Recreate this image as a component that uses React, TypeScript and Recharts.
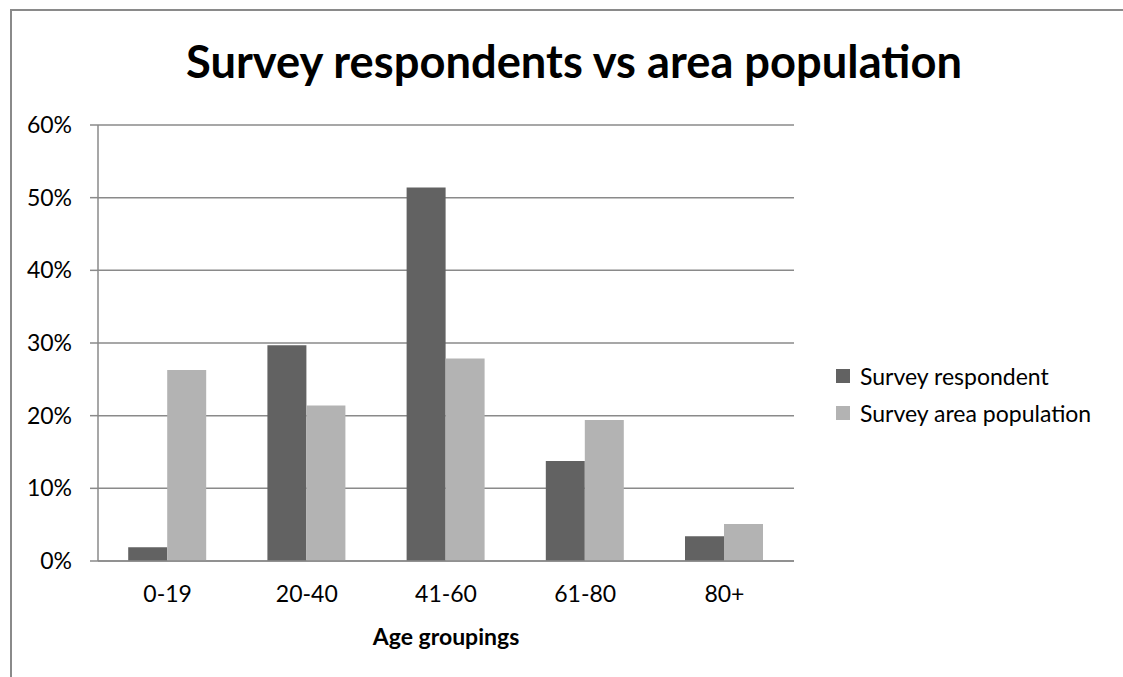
import React from 'react';
import { BarChart, Bar, XAxis, YAxis, CartesianGrid, Legend, Label } from 'recharts';

const categories = ['0-19', '20-40', '41-60', '61-80', '80+'];
const respondentValues = [0.019, 0.297, 0.514, 0.1375, 0.034];
const populationValues = [0.263, 0.214, 0.2785, 0.194, 0.051];
const yTicks = [0, 0.1, 0.2, 0.3, 0.4, 0.5, 0.6];
const seriesNames = ['Survey respondent', 'Survey area population'];
const seriesColors = ['#626262', '#b3b3b3'];
const titleText = 'Survey respondents vs area population';
const xAxisTitle = 'Age groupings';

const data = categories.map((c, i) => ({
  category: c,
  respondent: respondentValues[i],
  population: populationValues[i],
}));

const FONT = 'Lato, "Open Sans", sans-serif';
const GRID = '#8a8a8a';

const XTick = (props: any) => {
  const { x, y, payload } = props;
  return (
    <text x={x} y={y + 41} textAnchor="middle" fontSize={23} fontFamily={FONT} fill="#000">
      {payload.value}
    </text>
  );
};

const XTitle = (props: any) => {
  const vb = props.viewBox || { x: 0, y: 0, width: 0 };
  return (
    <text x={vb.x + vb.width / 2} y={vb.y + 84} textAnchor="middle" fontSize={23} fontWeight={700} fontFamily={FONT} fill="#000">
      {xAxisTitle}
    </text>
  );
};

const renderLegend = () => (
  <div style={{ fontFamily: FONT, fontSize: 23, color: '#000' }}>
    {seriesNames.map((name, i) => (
      <div key={name} style={{ display: 'flex', alignItems: 'center', height: 37 }}>
        <span style={{ width: 14, height: 14, background: seriesColors[i], marginRight: 10, display: 'inline-block' }} />
        <span style={{ whiteSpace: 'nowrap' }}>{name}</span>
      </div>
    ))}
  </div>
);

export default function App() {
  return (
    <div style={{ position: 'fixed', left: 8, top: 8, width: 1115, height: 669, overflow: 'hidden', background: '#fff' }}>
      <div
        style={{
          position: 'absolute',
          left: 2,
          top: 1,
          width: 1200,
          height: 900,
          border: `2px solid ${GRID}`,
          boxSizing: 'border-box',
        }}
      />
      <div style={{ position: 'absolute', left: 0, top: 0 }}>
        <BarChart
          width={1115}
          height={669}
          data={data}
          margin={{ top: 117, right: 329, bottom: 56, left: 0 }}
          barCategoryGap="21.7%"
          barGap={0}
        >
          <CartesianGrid vertical={false} stroke={GRID} strokeWidth={1.5} />
          <XAxis
            dataKey="category"
            height={60}
            tickLine={false}
            tickSize={0}
            tickMargin={0}
            axisLine={{ stroke: GRID, strokeWidth: 1.5 }}
            tick={<XTick />}
            interval={0}
            label={<Label content={<XTitle />} />}
          />
          <YAxis
            width={90}
            domain={[0, 0.6]}
            ticks={yTicks}
            interval={0}
            tickFormatter={(v: number) => `${Math.round(v * 100)}%`}
            tickSize={8}
            tickMargin={18}
            axisLine={{ stroke: GRID, strokeWidth: 1.5 }}
            tickLine={{ stroke: GRID, strokeWidth: 1.5 }}
            tick={{ fill: '#000', fontSize: 23, fontFamily: FONT }}
          />
          <Legend
            layout="vertical"
            align="center"
            verticalAlign="middle"
            content={renderLegend}
            wrapperStyle={{ left: 828, top: 349, width: 290 }}
          />
          <Bar dataKey="respondent" name={seriesNames[0]} fill={seriesColors[0]} isAnimationActive={false} />
          <Bar dataKey="population" name={seriesNames[1]} fill={seriesColors[1]} isAnimationActive={false} />
        </BarChart>
      </div>
      <svg width={1115} height={130} style={{ position: 'absolute', left: 0, top: 0, pointerEvents: 'none' }}>
        <text
          x={566}
          y={70}
          textAnchor="middle"
          fontSize={45}
          fontWeight={700}
          fontFamily={FONT}
          fill="#000"
          textLength={776}
          lengthAdjust="spacingAndGlyphs"
        >
          {titleText}
        </text>
      </svg>
    </div>
  );
}
